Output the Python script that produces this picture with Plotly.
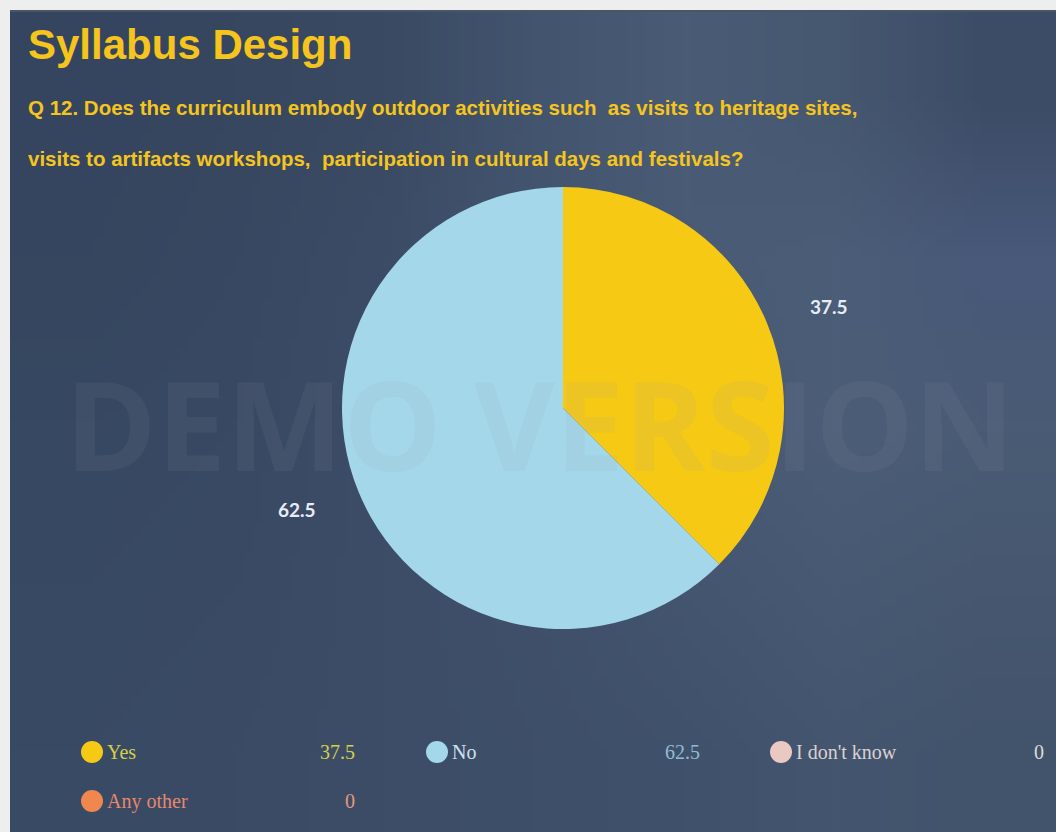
import base64
import math
import struct
import zlib

import plotly.graph_objects as go

# Survey answers for Q12
categories = ["Yes", "No", "I don't know", "Any other"]
values = [37.5, 62.5, 0, 0]
slice_colors = ["#f6c915", "#a3d7e9", "#e9c9c1", "#f0874f"]
legend_text_colors = ["#d6cf48", "#cfe2ec", "#ddd2ce", "#e8876a"]
legend_value_colors = ["#d6cf48", "#93bcd3", "#dcdcdc", "#e29a7a"]

title_text = "Syllabus Design"
question_lines = [
    "Q 12. Does the curriculum embody outdoor activities such  as visits to heritage sites,",
    "visits to artifacts workshops,  participation in cultural days and festivals?",
]

W, H = 1056, 832
BG = "#3b4b66"
GOLD = "#f6c51d"

# coarse colour grid for the slide backdrop (stretched and smoothed by the browser)
backdrop_rows = [
    ["#35455f", "#37475f", "#3a4a63", "#43546e", "#4a5b75", "#465770", "#3c4c66"],
    ["#36465f", "#384862", "#3c4c66", "#44556f", "#4a5b76", "#4c5d78", "#48597a"],
    ["#374862", "#394964", "#3d4d67", "#42536d", "#485973", "#4c5d78", "#4a5b75"],
    ["#384963", "#3a4a65", "#3d4d67", "#40506a", "#44556f", "#485973", "#46576f"],
    ["#394a64", "#3b4b66", "#3d4d68", "#3e4f69", "#40516b", "#44556f", "#42536c"],
]


def backdrop_png(rows):
    h = len(rows)
    w = len(rows[0])
    raw = b""
    for r in rows:
        raw += b"\x00" + b"".join(bytes.fromhex(c[1:]) for c in r)

    def chunk(tag, data):
        c = struct.pack(">I", len(data)) + tag + data
        return c + struct.pack(">I", zlib.crc32(tag + data) & 0xFFFFFFFF)

    png = b"\x89PNG\r\n\x1a\n"
    png += chunk(b"IHDR", struct.pack(">IIBBBBB", w, h, 8, 2, 0, 0, 0))
    png += chunk(b"IDAT", zlib.compress(raw))
    png += chunk(b"IEND", b"")
    return "data:image/png;base64," + base64.b64encode(png).decode()


def px(x):
    return x / W


def py(y):
    return 1 - y / H


# pie geometry in pixels
cx, cy, R = 563, 408, 221

fig = go.Figure(
    go.Pie(
        labels=categories,
        values=values,
        marker=dict(colors=slice_colors, line=dict(width=0)),
        sort=False,
        direction="clockwise",
        rotation=0,
        textinfo="none",
        hoverinfo="label+value",
        showlegend=False,
        domain=dict(x=[px(cx - R), px(cx + R)], y=[py(cy + R), py(cy - R)]),
    )
)

shapes = [
    # light frame around the slide
    dict(type="rect", xref="paper", yref="paper", x0=0, x1=1, y0=py(10), y1=1,
         fillcolor="#eeeeee", line=dict(width=0), layer="above"),
    dict(type="rect", xref="paper", yref="paper", x0=0, x1=px(10), y0=0, y1=1,
         fillcolor="#eeeeee", line=dict(width=0), layer="above"),
    dict(type="rect", xref="paper", yref="paper", x0=px(10), x1=1, y0=py(10), y1=py(12),
         fillcolor="#4a5568", line=dict(width=0), layer="above"),
]

annotations = [
    # faint watermark; box kept tight to the capitals
    dict(text="<b>DEMO VERSION</b>", x=px(540), y=py(422), xref="paper", yref="paper",
         showarrow=False, xanchor="center", yanchor="middle", height=112,
         font=dict(family="Open Sans", size=124, color="rgba(150,158,170,0.10)")),
    dict(text=f"<b>{title_text}</b>", x=px(26), y=py(44), xref="paper", yref="paper",
         showarrow=False, xanchor="left", yanchor="middle",
         font=dict(family="Liberation Sans", size=42, color=GOLD)),
]
for i, line in enumerate(question_lines):
    annotations.append(
        dict(text=f"<b>{line}</b>", x=px(26), y=py(108 + 50 * i), xref="paper", yref="paper",
             showarrow=False, xanchor="left", yanchor="middle",
             font=dict(family="Liberation Sans", size=20.5, color=GOLD))
    )

# value labels placed outside each non-zero slice at its mid-angle,
# anchored on the side facing the pie
total = sum(values)
cum = 0
for v in values:
    if v > 0:
        mid = (cum + v / 2) / total * 2 * math.pi
        r = R * 1.2
        lx = cx + r * math.sin(mid)
        ly = cy - r * math.cos(mid)
        annotations.append(
            dict(text=f"<b>{v}</b>", x=px(lx), y=py(ly), xref="paper", yref="paper",
                 showarrow=False, xanchor="left" if lx > cx else "right", yanchor="middle",
                 font=dict(family="Lato", size=19, color="#e6edf4"))
        )
    cum += v

# custom legend: marker, label, value in a 3-column grid
col_x = [92, 437, 781]
row_y = [752, 801]
for i, (name, v) in enumerate(zip(categories, values)):
    col, row = i % 3, i // 3
    mx, my = col_x[col], row_y[row]
    shapes.append(dict(type="circle", xref="paper", yref="paper",
                       x0=px(mx - 11), x1=px(mx + 11), y0=py(my + 11), y1=py(my - 11),
                       fillcolor=slice_colors[i], line=dict(width=0)))
    annotations.append(
        dict(text=name, x=px(mx + 13), y=py(my), xref="paper", yref="paper",
             showarrow=False, xanchor="left", yanchor="middle",
             font=dict(family="Liberation Serif", size=20, color=legend_text_colors[i])))
    annotations.append(
        dict(text=f"{v:g}", x=px(mx + 265), y=py(my), xref="paper", yref="paper",
             showarrow=False, xanchor="right", yanchor="middle",
             font=dict(family="Liberation Serif", size=20, color=legend_value_colors[i])))

fig.update_layout(
    width=W,
    height=H,
    margin=dict(l=0, r=0, t=0, b=0),
    paper_bgcolor=BG,
    plot_bgcolor=BG,
    shapes=shapes,
    annotations=annotations,
    images=[dict(source=backdrop_png(backdrop_rows), xref="paper", yref="paper",
                 x=px(10), y=py(10), sizex=1 - px(10), sizey=py(10), xanchor="left",
                 yanchor="top", sizing="stretch", layer="below")],
)

fig.write_html("out.html")
